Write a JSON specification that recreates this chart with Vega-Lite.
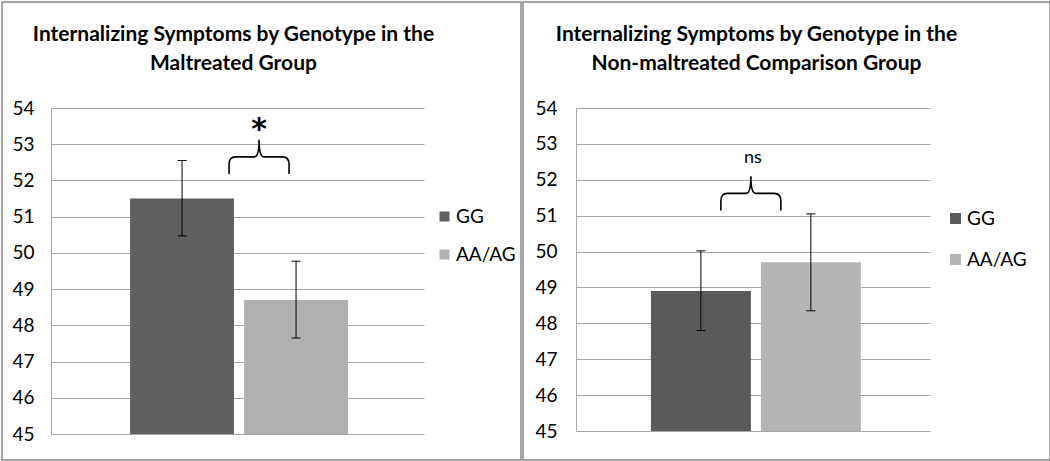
{
  "$schema": "https://vega.github.io/schema/vega-lite/v6.json",
  "padding": {"left": 1, "top": 1, "right": 1, "bottom": 1},
  "background": "white",
  "spacing": 0,
  "datasets": {
    "maltreated": [
      {"genotype": "GG", "mean": 51.5, "lower": 50.47, "upper": 52.55},
      {"genotype": "AA/AG", "mean": 48.7, "lower": 47.65, "upper": 49.77}
    ],
    "comparison": [
      {"genotype": "GG", "mean": 48.9, "lower": 47.8, "upper": 50.02},
      {"genotype": "AA/AG", "mean": 49.7, "lower": 48.35, "upper": 51.05}
    ]
  },
  "hconcat": [
    {
      "width": 519,
      "height": 458,
      "title": {
        "text": ["Internalizing Symptoms by Genotype in the", "Maltreated Group"],
        "anchor": "middle", "frame": "group", "offset": -72, "dx": -28,
        "baseline": "top", "lineHeight": 29, "font": "Lato", "fontSize": 21,
        "fontWeight": "bold", "color": "#000000"
      },
      "data": {"name": "maltreated"},
      "layer": [
        {
          "mark": {"type": "bar"},
          "encoding": {
            "x": {"field": "genotype", "type": "nominal",
              "scale": {"domain": ["GG", "AA/AG"], "range": [49, 422], "paddingInner": 0.088, "paddingOuter": 0.68, "align": 0.51},
              "axis": null},
            "y": {"field": "mean", "type": "quantitative",
              "scale": {"domain": [45, 54], "range": [432, 106], "nice": false, "zero": false},
              "axis": {"values": [45, 46, 47, 48, 49, 50, 51, 52, 53, 54], "offset": -49, "grid": true,
                "gridColor": "#a6a6a6", "gridWidth": 1, "ticks": false, "domain": true, "domainColor": "#a6a6a6",
                "labelFont": "Lato", "labelFontSize": 19, "labelColor": "#000000", "labelPadding": 17, "title": null}},
            "y2": {"datum": 45},
            "color": {"field": "genotype", "type": "nominal",
              "scale": {"domain": ["GG", "AA/AG"], "range": ["#606060", "#b0b0b0"]},
              "legend": {"orient": "none", "legendX": 433, "legendY": 205, "title": null, "symbolType": "square",
                "symbolSize": 100, "symbolStrokeWidth": 0, "labelFont": "Lato", "labelFontSize": 19,
                "labelColor": "#000000", "rowPadding": 18, "labelOffset": 2, "padding": 0}}
          }
        },
        {
          "mark": {"type": "rule", "color": "#000000", "strokeWidth": 1},
          "encoding": {
            "x": {"field": "genotype", "type": "nominal"},
            "y": {"field": "lower", "type": "quantitative"},
            "y2": {"field": "upper"}
          }
        },
        {
          "mark": {"type": "tick", "color": "#000000", "thickness": 1, "size": 9, "orient": "horizontal", "opacity": 1},
          "encoding": {
            "x": {"field": "genotype", "type": "nominal"},
            "y": {"field": "upper", "type": "quantitative"}
          }
        },
        {
          "mark": {"type": "tick", "color": "#000000", "thickness": 1, "size": 9, "orient": "horizontal", "opacity": 1},
          "encoding": {
            "x": {"field": "genotype", "type": "nominal"},
            "y": {"field": "lower", "type": "quantitative"}
          }
        },
        {
          "data": {"values": [{"note": "*"}]},
          "mark": {"type": "point", "shape": "M-1,0.57 L-1,0.25 Q-1,0 -0.78,0 L-0.16,0 Q0,0 0,-0.57 Q0,0 0.16,0 L0.78,0 Q1,0 1,0.25 L1,0.57",
            "size": 3600, "filled": false, "stroke": "#000000", "strokeWidth": 1.6, "opacity": 1},
          "encoding": {
            "x": {"datum": "AA/AG", "bandPosition": 0.144},
            "y": {"datum": 52.65}
          }
        },
        {
          "data": {"values": [{"note": "*"}]},
          "mark": {"type": "text", "font": "DejaVu Sans", "fontSize": 30, "fontWeight": "bold", "color": "#000000", "baseline": "middle", "dy": 4},
          "encoding": {
            "x": {"datum": "AA/AG", "bandPosition": 0.144},
            "y": {"datum": 53.5},
            "text": {"field": "note"}
          }
        }
      ]
    },
    {
      "width": 527,
      "height": 458,
      "title": {
        "text": ["Internalizing Symptoms by Genotype in the", "Non-maltreated Comparison Group"],
        "anchor": "middle", "frame": "group", "offset": -72, "dx": -30,
        "baseline": "top", "lineHeight": 29, "font": "Lato", "fontSize": 21,
        "fontWeight": "bold", "color": "#000000"
      },
      "data": {"name": "comparison"},
      "layer": [
        {
          "mark": {"type": "bar"},
          "encoding": {
            "x": {"field": "genotype", "type": "nominal",
              "scale": {"domain": ["GG", "AA/AG"], "range": [53, 407], "paddingInner": 0.091, "paddingOuter": 0.655, "align": 0.52},
              "axis": null},
            "y": {"field": "mean", "type": "quantitative",
              "scale": {"domain": [45, 54], "range": [429, 106], "nice": false, "zero": false},
              "axis": {"values": [45, 46, 47, 48, 49, 50, 51, 52, 53, 54], "offset": -53, "grid": true,
                "gridColor": "#a6a6a6", "gridWidth": 1, "ticks": false, "domain": true, "domainColor": "#a6a6a6",
                "labelFont": "Lato", "labelFontSize": 19, "labelColor": "#000000", "labelPadding": 19, "title": null}},
            "y2": {"datum": 45},
            "color": {"field": "genotype", "type": "nominal",
              "scale": {"domain": ["GG", "AA/AG"], "range": ["#5a5a5a", "#b5b5b5"]},
              "legend": {"orient": "none", "legendX": 423, "legendY": 207, "title": null, "symbolType": "square",
                "symbolSize": 121, "symbolStrokeWidth": 0, "labelFont": "Lato", "labelFontSize": 19,
                "labelColor": "#000000", "rowPadding": 21, "labelOffset": 2, "padding": 0}}
          }
        },
        {
          "mark": {"type": "rule", "color": "#000000", "strokeWidth": 1},
          "encoding": {
            "x": {"field": "genotype", "type": "nominal"},
            "y": {"field": "lower", "type": "quantitative"},
            "y2": {"field": "upper"}
          }
        },
        {
          "mark": {"type": "tick", "color": "#000000", "thickness": 1, "size": 9, "orient": "horizontal", "opacity": 1},
          "encoding": {
            "x": {"field": "genotype", "type": "nominal"},
            "y": {"field": "upper", "type": "quantitative"}
          }
        },
        {
          "mark": {"type": "tick", "color": "#000000", "thickness": 1, "size": 9, "orient": "horizontal", "opacity": 1},
          "encoding": {
            "x": {"field": "genotype", "type": "nominal"},
            "y": {"field": "lower", "type": "quantitative"}
          }
        },
        {
          "data": {"values": [{"note": "ns"}]},
          "mark": {"type": "point", "shape": "M-1,0.57 L-1,0.25 Q-1,0 -0.78,0 L-0.16,0 Q0,0 0,-0.57 Q0,0 0.16,0 L0.78,0 Q1,0 1,0.25 L1,0.57",
            "size": 3600, "filled": false, "stroke": "#000000", "strokeWidth": 1.6, "opacity": 1},
          "encoding": {
            "x": {"datum": "GG", "bandPosition": 1.0},
            "y": {"datum": 51.62}
          }
        },
        {
          "data": {"values": [{"note": "ns"}]},
          "mark": {"type": "text", "font": "Lato", "fontSize": 18, "color": "#000000", "baseline": "middle"},
          "encoding": {
            "x": {"datum": "GG", "bandPosition": 1.02},
            "y": {"datum": 52.6},
            "text": {"field": "note"}
          }
        }
      ]
    }
  ],
  "resolve": {
    "scale": {"x": "independent", "y": "independent", "color": "independent"},
    "legend": {"color": "independent"}
  },
  "config": {
    "view": {"stroke": "#888888", "strokeWidth": 1.5},
    "font": "Lato"
  }
}
